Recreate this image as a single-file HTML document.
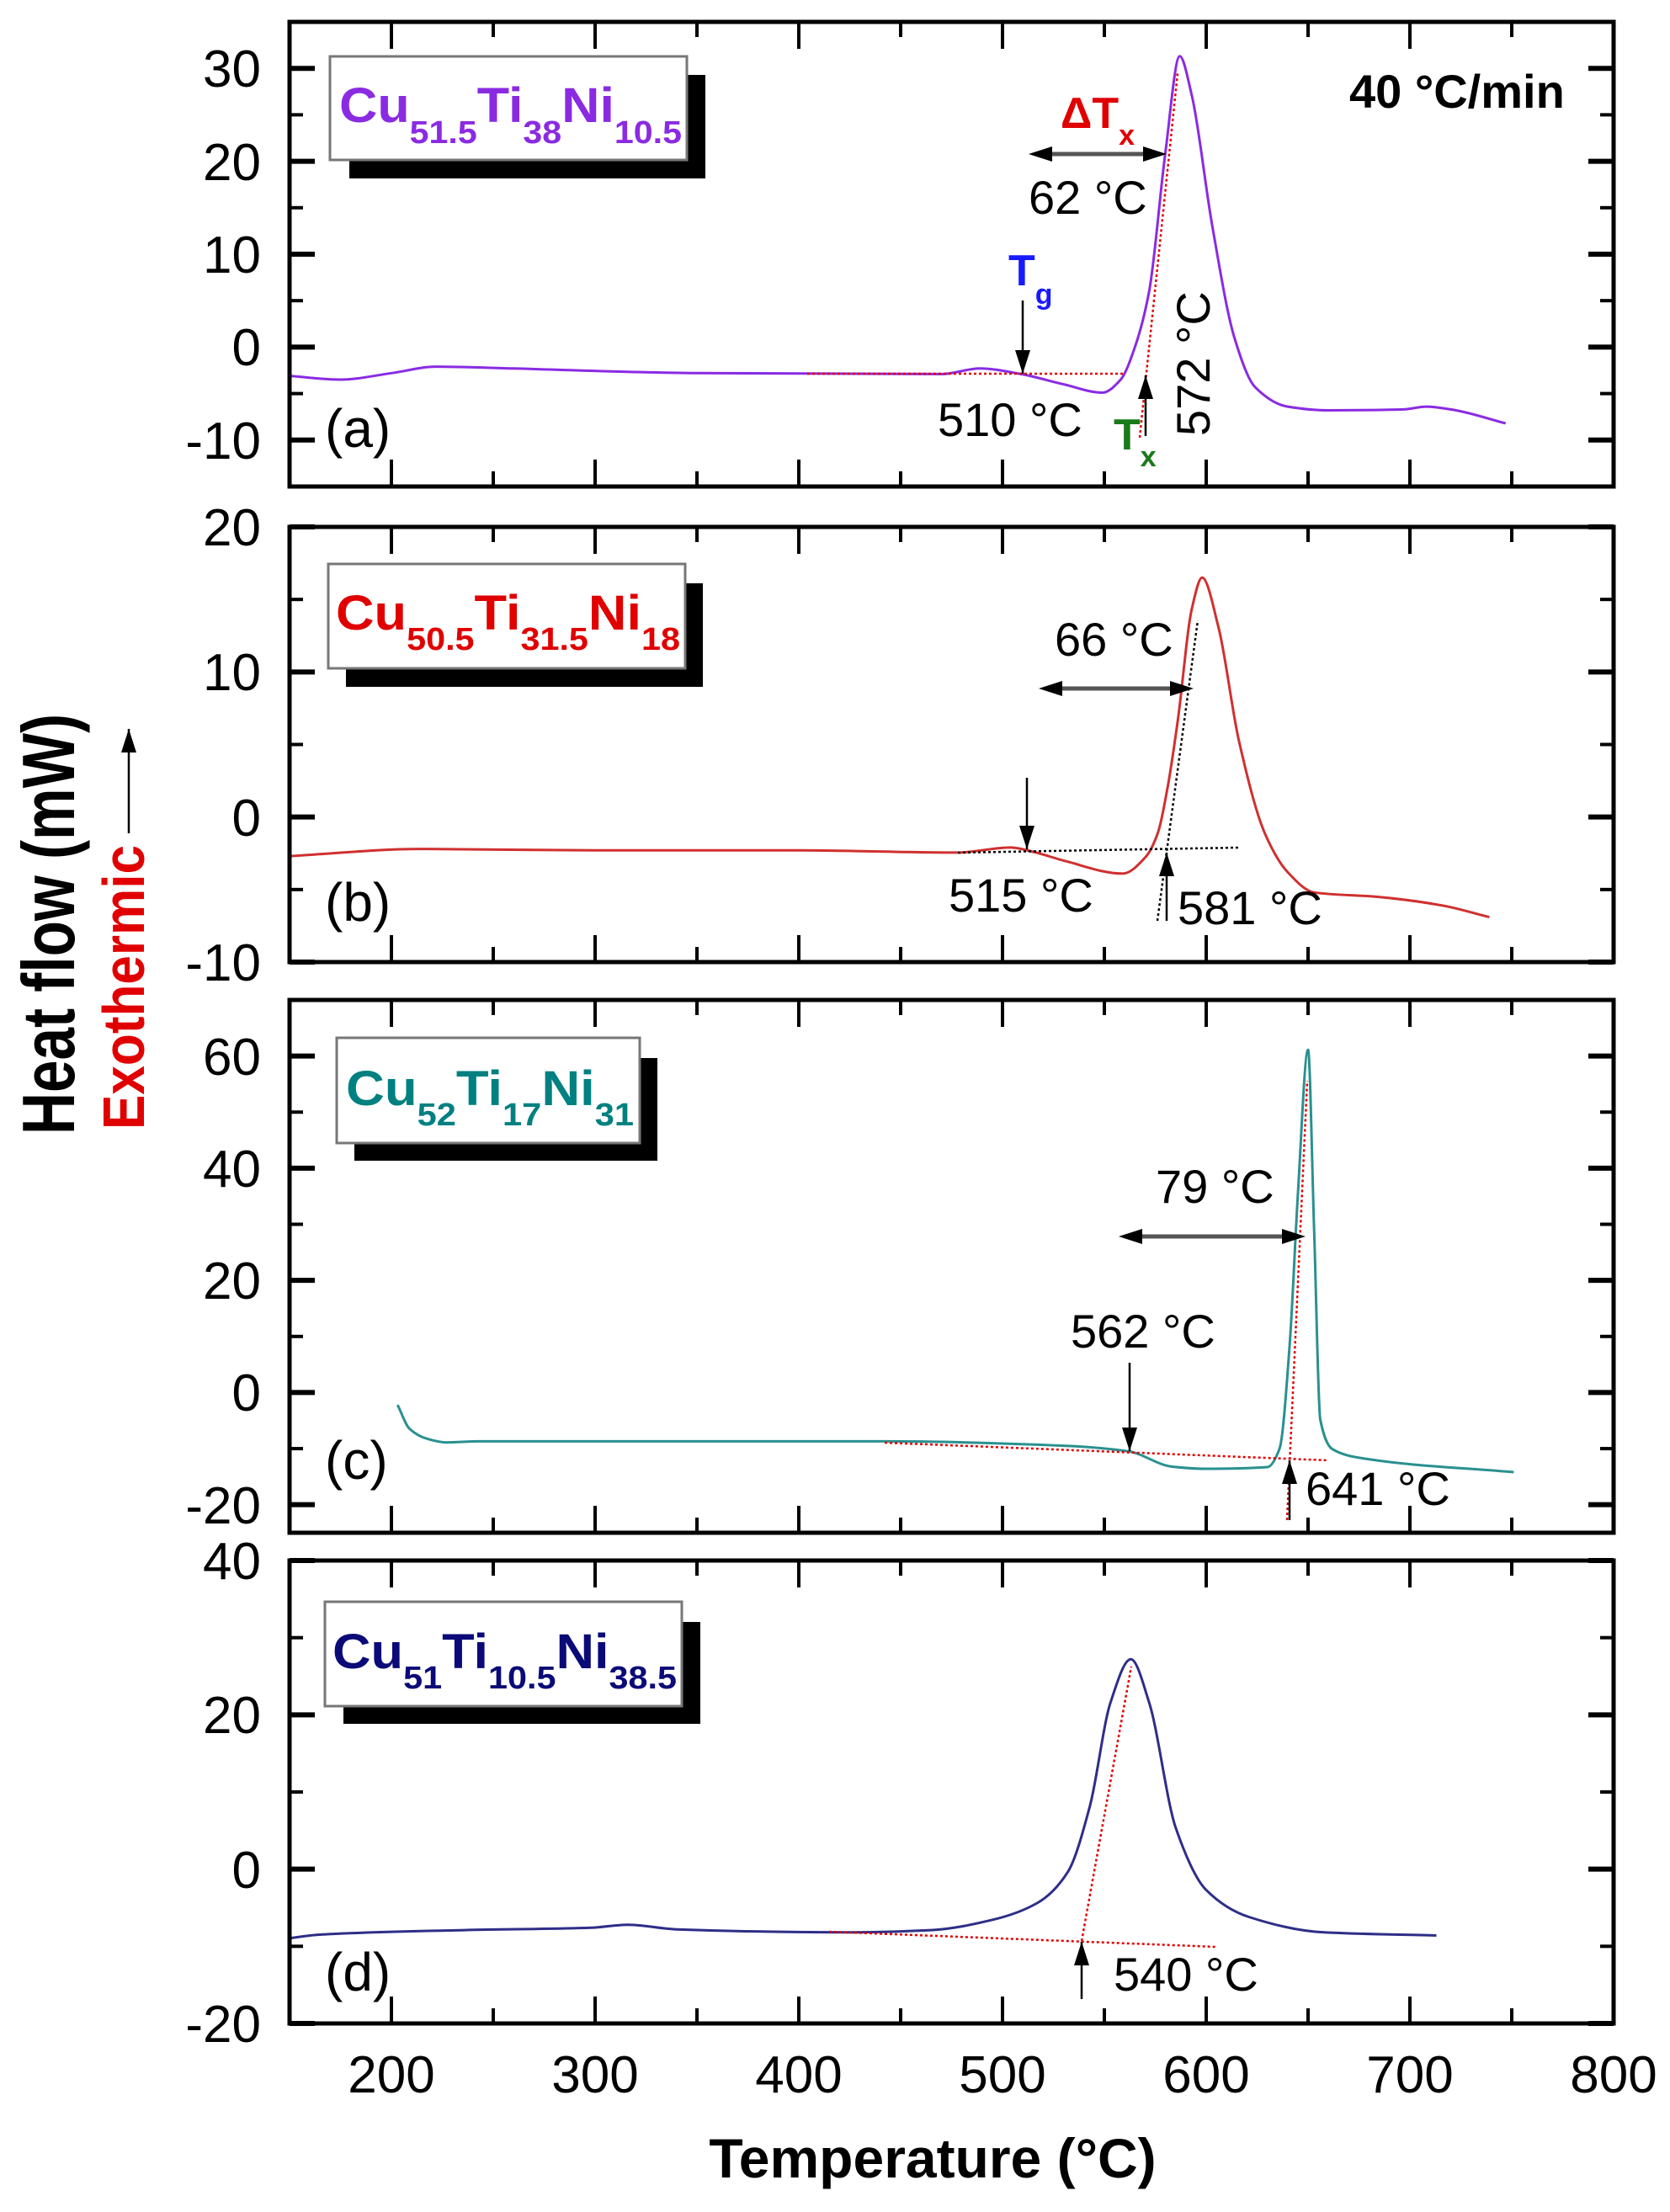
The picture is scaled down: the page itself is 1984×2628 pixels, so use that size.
<!DOCTYPE html>
<html><head><meta charset="utf-8"><style>
html,body{margin:0;padding:0;background:#fff;}
svg{display:block;}
text{font-family:"Liberation Sans",Arial,sans-serif;}
</style></head><body>
<svg id="s" width="1984" height="2628" viewBox="0 0 1984 2628" xmlns="http://www.w3.org/2000/svg">
<rect width="1984" height="2628" fill="#fff"/>
<g id="g"></g>
<!-- legend boxes -->
<rect x="415" y="89" width="423" height="123" fill="#000"/>
<rect x="392" y="67" width="424" height="123" fill="#fff" stroke="#777" stroke-width="3"/>
<rect x="411" y="693" width="424" height="123" fill="#000"/>
<rect x="390" y="670" width="424" height="124" fill="#fff" stroke="#777" stroke-width="3"/>
<rect x="421" y="1257" width="360" height="122" fill="#000"/>
<rect x="400" y="1233" width="360" height="125" fill="#fff" stroke="#777" stroke-width="3"/>
<rect x="408" y="1927" width="424" height="121" fill="#000"/>
<rect x="386" y="1903" width="424" height="124" fill="#fff" stroke="#777" stroke-width="3"/>

<g font-weight="bold">
<text x="403" y="145" font-size="58" fill="#8a2be2" textLength="407" lengthAdjust="spacingAndGlyphs">Cu<tspan font-size="38" dy="25">51.5</tspan><tspan dy="-25">Ti</tspan><tspan font-size="38" dy="25">38</tspan><tspan dy="-25">Ni</tspan><tspan font-size="38" dy="25">10.5</tspan></text>
<text x="399" y="748" font-size="58" fill="#e00000" textLength="409" lengthAdjust="spacingAndGlyphs">Cu<tspan font-size="38" dy="24">50.5</tspan><tspan dy="-24">Ti</tspan><tspan font-size="38" dy="24">31.5</tspan><tspan dy="-24">Ni</tspan><tspan font-size="38" dy="24">18</tspan></text>
<text x="411" y="1313" font-size="58" fill="#008080" textLength="342" lengthAdjust="spacingAndGlyphs">Cu<tspan font-size="38" dy="24">52</tspan><tspan dy="-24">Ti</tspan><tspan font-size="38" dy="24">17</tspan><tspan dy="-24">Ni</tspan><tspan font-size="38" dy="24">31</tspan></text>
<text x="395" y="1982" font-size="58" fill="#0a0a78" textLength="409" lengthAdjust="spacingAndGlyphs">Cu<tspan font-size="38" dy="24">51</tspan><tspan dy="-24">Ti</tspan><tspan font-size="38" dy="24">10.5</tspan><tspan dy="-24">Ni</tspan><tspan font-size="38" dy="24">38.5</tspan></text>
</g>

<!-- y tick labels -->
<g font-size="62" text-anchor="end" fill="#000">
<text x="310" y="103">30</text><text x="310" y="214">20</text><text x="310" y="324">10</text><text x="310" y="434">0</text><text x="310" y="545">-10</text>
<text x="310" y="648">20</text><text x="310" y="820">10</text><text x="310" y="993">0</text><text x="310" y="1165">-10</text>
<text x="310" y="1277">60</text><text x="310" y="1410">40</text><text x="310" y="1543">20</text><text x="310" y="1676">0</text><text x="310" y="1810">-20</text>
<text x="310" y="1876">40</text><text x="310" y="2059">20</text><text x="310" y="2243">0</text><text x="310" y="2426">-20</text>
</g>
<!-- x tick labels -->
<g font-size="62" text-anchor="middle" fill="#000">
<text x="465" y="2486">200</text><text x="707" y="2486">300</text><text x="949" y="2486">400</text><text x="1191" y="2486">500</text><text x="1433" y="2486">600</text><text x="1675" y="2486">700</text><text x="1917" y="2486">800</text>
</g>
<text x="1108" y="2587" font-size="66" font-weight="bold" text-anchor="middle">Temperature (°C)</text>
<text transform="translate(88,1098) rotate(-90)" font-size="88" font-weight="bold" text-anchor="middle" textLength="500" lengthAdjust="spacingAndGlyphs">Heat flow (mW)</text>
<text transform="translate(171,1173) rotate(-90)" font-size="70" font-weight="bold" fill="#e00000" text-anchor="middle" textLength="338" lengthAdjust="spacingAndGlyphs">Exothermic</text>

<!-- panel annotations -->
<g font-size="56" fill="#000">
<text x="1603" y="128" font-weight="bold">40 °C/min</text>
<text x="1260" y="152" font-weight="bold" fill="#e00000" font-size="52">ΔT<tspan font-size="34" dy="20">x</tspan></text>
<text x="1222" y="254">62 °C</text>
<text x="1198" y="339" font-weight="bold" fill="#1a1aff" font-size="52">T<tspan font-size="34" dy="22">g</tspan></text>
<text x="1114" y="518">510 °C</text>
<text x="1323" y="534" font-weight="bold" fill="#1a7a1a" font-size="52">T<tspan font-size="34" dy="20">x</tspan></text>
<text transform="translate(1437,518) rotate(-90)">572 °C</text>
<text x="386" y="531" font-size="64">(a)</text>

<text x="1253" y="779">66 °C</text>
<text x="1127" y="1083">515 °C</text>
<text x="1399" y="1098">581 °C</text>
<text x="386" y="1094" font-size="64">(b)</text>

<text x="1373" y="1429">79 °C</text>
<text x="1272" y="1601">562 °C</text>
<text x="1551" y="1788">641 °C</text>
<text x="386" y="1757" font-size="64">(c)</text>

<text x="1323" y="2365">540 °C</text>
<text x="386" y="2365" font-size="64">(d)</text>
</g>
</svg>
<script>
(function(){
var NS="http://www.w3.org/2000/svg",G=document.getElementById("g");
function el(n,a){var e=document.createElementNS(NS,n);for(var k in a)e.setAttribute(k,a[k]);G.appendChild(e);return e;}
var L=344,R=1917;
function X(T){return L+(T-150)*(R-L)/650;}
var P=[
 {t:26,b:578,mn:-15,mx:35,maj:10,min:5,c:"#8a2be2",d:[[150,-3.1],[175,-3.5],[200,-2.8],[222,-2.1],[260,-2.3],[350,-2.8],[470,-2.9],[489,-2.3],[509,-2.9],[530,-4],[549,-4.9],[558,-3.5],[565,0],[572,6],[580,21],[587,31.3],[593,27],[603,13],[614,0.9],[624,-4.3],[640,-6.4],[660,-6.8],[697,-6.7],[708,-6.4],[720,-6.7],[747,-8.2]]},
 {t:626,b:1143,mn:-10,mx:20,maj:10,min:5,c:"#d03030",d:[[150,-2.7],[214,-2.2],[300,-2.3],[400,-2.3],[478,-2.45],[504,-2.1],[515,-2.4],[530,-3.0],[559,-3.9],[570,-2.8],[576,-1.2],[581,2],[586,6.6],[593,14.4],[598,16.5],[606,13.1],[616,5.3],[629,-1.2],[640,-3.8],[653,-5.2],[684,-5.5],[716,-6.1],[739,-6.9]]},
 {t:1188,b:1821,mn:-25,mx:70,maj:20,min:10,c:"#2a9090",d:[[203,-2.2],[209,-6.5],[218,-8.3],[227,-8.9],[243,-8.7],[442,-8.7],[531,-9.5],[562,-10.5],[583,-13.2],[599,-13.6],[630,-13.3],[636,-10],[641,8.6],[645,35.3],[650,61.1],[653,28.6],[656,-4.8],[662,-10.1],[678,-11.8],[751,-14.2]]},
 {t:1854,b:2404,mn:-20,mx:40,maj:20,min:10,c:"#2e2e88",d:[[150,-8.95],[164,-8.5],[236,-7.9],[298,-7.6],[316,-7.2],[340,-7.8],[423,-8.2],[465,-7.9],[496,-6.5],[517,-4.4],[532,-0.4],[543,8.3],[553,21.6],[563,27.2],[572,21.6],[585,5.4],[600,-2.7],[621,-6.2],[658,-8.2],[713,-8.6]]}
];
P.forEach(function(p){
 function Y(v){return p.b-(v-p.mn)*(p.b-p.t)/(p.mx-p.mn);}
 var pts=p.d.map(function(q){return [X(q[0]),Y(q[1])];});
 var n=pts.length,dl=[],m=[];
 for(var i=0;i<n-1;i++)dl.push((pts[i+1][1]-pts[i][1])/(pts[i+1][0]-pts[i][0]));
 m[0]=dl[0];m[n-1]=dl[n-2];
 for(var i=1;i<n-1;i++){ if(dl[i-1]*dl[i]<=0)m[i]=0; else {var w1=2*(pts[i+1][0]-pts[i][0])+(pts[i][0]-pts[i-1][0]),w2=(pts[i+1][0]-pts[i][0])+2*(pts[i][0]-pts[i-1][0]);m[i]=(w1+w2)/(w1/dl[i-1]+w2/dl[i]);} }
 var s="M"+pts[0][0].toFixed(1)+","+pts[0][1].toFixed(1);
 for(var i=0;i<n-1;i++){
  var h=pts[i+1][0]-pts[i][0];
  s+="C"+(pts[i][0]+h/3).toFixed(1)+","+(pts[i][1]+m[i]*h/3).toFixed(1)+" "+(pts[i+1][0]-h/3).toFixed(1)+","+(pts[i+1][1]-m[i+1]*h/3).toFixed(1)+" "+pts[i+1][0].toFixed(1)+","+pts[i+1][1].toFixed(1);
 }
 el("path",{d:s,fill:"none",stroke:p.c,"stroke-width":3});
 for(var T=150;T<=800;T+=50){var x=X(T),mj=(T%100==0),len=mj?32:18;
  el("line",{x1:x,y1:p.t,x2:x,y2:p.t+len,stroke:"#000","stroke-width":4});
  el("line",{x1:x,y1:p.b,x2:x,y2:p.b-len,stroke:"#000","stroke-width":4});}
 for(var v=p.mn;v<=p.mx+0.01;v+=1){ if(v%p.min!==0)continue; var y=Y(v),mj=(v%p.maj===0),len=mj?30:16;
  el("line",{x1:L,y1:y,x2:L+len,y2:y,stroke:"#000","stroke-width":mj?6:4});
  el("line",{x1:R,y1:y,x2:R-len,y2:y,stroke:"#000","stroke-width":mj?6:4});}
 el("rect",{x:L,y:p.t,width:R-L,height:p.b-p.t,fill:"none",stroke:"#000","stroke-width":5});
});
function dot(x1,y1,x2,y2,c){el("line",{x1:x1,y1:y1,x2:x2,y2:y2,stroke:c,"stroke-width":2.5,"stroke-dasharray":"3 3"});}
function head(x,y,dx,dy){var l=Math.hypot(dx,dy),ux=dx/l,uy=dy/l,h=28,w=9;
 el("polygon",{points:x+","+y+" "+(x-ux*h-uy*w)+","+(y-uy*h+ux*w)+" "+(x-ux*h+uy*w)+","+(y-uy*h-ux*w),fill:"#000"});}
function arrow(x1,y1,x2,y2){el("line",{x1:x1,y1:y1,x2:x2,y2:y2,stroke:"#000","stroke-width":2.5});head(x2,y2,x2-x1,y2-y1);}
function darrow(x1,x2,y){el("line",{x1:x1+10,y1:y,x2:x2-10,y2:y,stroke:"#555","stroke-width":5});head(x1,y,-1,0);head(x2,y,1,0);}
dot(959,444,1336,444,"#e00000");dot(1354,520,1399,87,"#e00000");
arrow(1215,357,1215,444);arrow(1361,518,1361,446);darrow(1222,1386,183);
dot(1138,1013,1472,1007,"#000");dot(1375,1094,1423,737,"#000");
arrow(1220,924,1220,1009);arrow(1386,1094,1386,1013);darrow(1234,1418,818);
dot(1051,1714,1578,1735,"#e00000");dot(1529,1806,1553,1284,"#e00000");
arrow(1342,1619,1342,1724);arrow(1532,1806,1532,1735);darrow(1329,1551,1469);
dot(985,2295,1445,2313,"#e00000");dot(1285,2306,1344,1980,"#e00000");
arrow(1285,2375,1285,2307);
arrow(153,990,153,866);
})();
</script>
</body></html>
